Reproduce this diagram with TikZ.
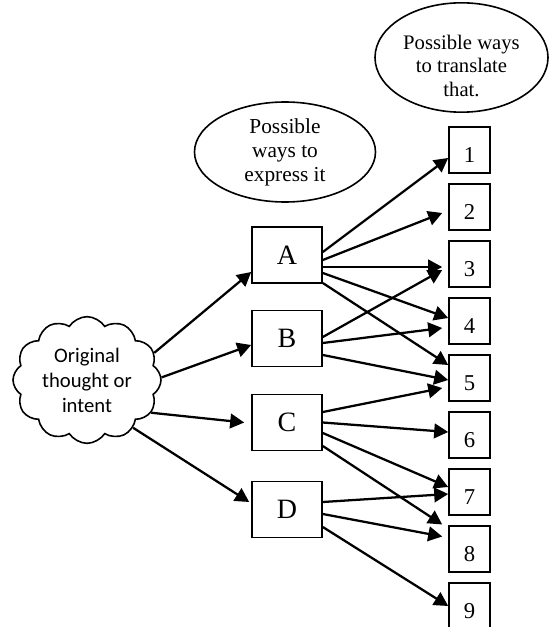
\documentclass[tikz,border=0pt]{standalone}
\usepackage{fontspec}
\setmainfont{Liberation Serif}
\newfontfamily\calibri{Carlito}
\usetikzlibrary{shapes.geometric,shapes.symbols,arrows.meta}

\begin{document}
\begin{tikzpicture}[x=0.75pt,y=-0.75pt,
    >={Triangle[length=10.5pt,width=11pt]},
    arr/.style={->,line width=1.7pt},
    letterbox/.style={draw,line width=1.2pt,minimum width=52.5pt,minimum height=42pt,inner sep=0pt,font=\fontsize{21}{24}\selectfont},
    numbox/.style={draw,line width=1.2pt,minimum width=30.75pt,minimum height=34.5pt,inner sep=0pt,text height=19pt,text depth=0pt,font=\fontsize{17}{20}\selectfont},
    bubble/.style={ellipse,draw,line width=1.2pt,inner sep=0pt,align=center}]

    \useasboundingbox (0,0) rectangle (550,627); %frame

    \node[cloud,draw,line width=1.2pt,cloud puffs=12,cloud puff arc=115,cloud ignores aspect,
          minimum width=111pt,minimum height=95pt,inner sep=0pt,align=center,
          font=\calibri\fontsize{15.5}{18.75}\selectfont] (orig) at (87,380) {Original\\thought or\\intent}; %cloud
    \node[bubble,minimum width=135.75pt,minimum height=75pt,font=\fontsize{16}{18}\selectfont]
          (express) at (285,152) {Possible\\ways to\\express it};
    \node[bubble,minimum width=129.75pt,minimum height=78.75pt,font=\fontsize{15.5}{17.5}\selectfont,
          text height=58pt,text depth=0pt] (translate) at (461.5,57.5) {Possible ways\\to translate\\that.};

    \foreach \l/\y in {A/255,B/338.5,C/422.5,D/509.5}
        \node[letterbox] (\l) at (287,\y) {\l}; %A-D
    \foreach \i in {1,...,9}
        \node[numbox] (n\i) at (469.5,{150+57*(\i-1)}) {\i}; %1-9

    \foreach \ang/\s/\bx/\by in {22/A/0/17, 2/B/0/6.5, -27/C/-7/0, -46/D/-2/-7.5}
        \draw[arr] (orig.\ang) -- ([shift={(\bx,\by)}]\s.west);

    \foreach \s/\a/\t/\bx/\by in {A/-3/1/0/8, A/5/2/-6/6, A/12/3/-6/3, A/18/4/0/-3, A/28/5/0/-13,
                                 B/-1.5/3/-6/6, B/4.5/4/-6/7, B/16.5/5/0/2,
                                 C/-10.5/5/-6/10, C/0/6/0/-3, C/10.5/7/0/-5, C/23.5/8/-6/-24.5,
                                 D/-7.5/7/0/2, D/4.5/8/-6/-12.5, D/17.5/9/0/0}
        \draw[arr] ([shift={(0,\a)}]\s.east) -- ([shift={(\bx,\by)}]n\t.west);

\end{tikzpicture}
\end{document}
